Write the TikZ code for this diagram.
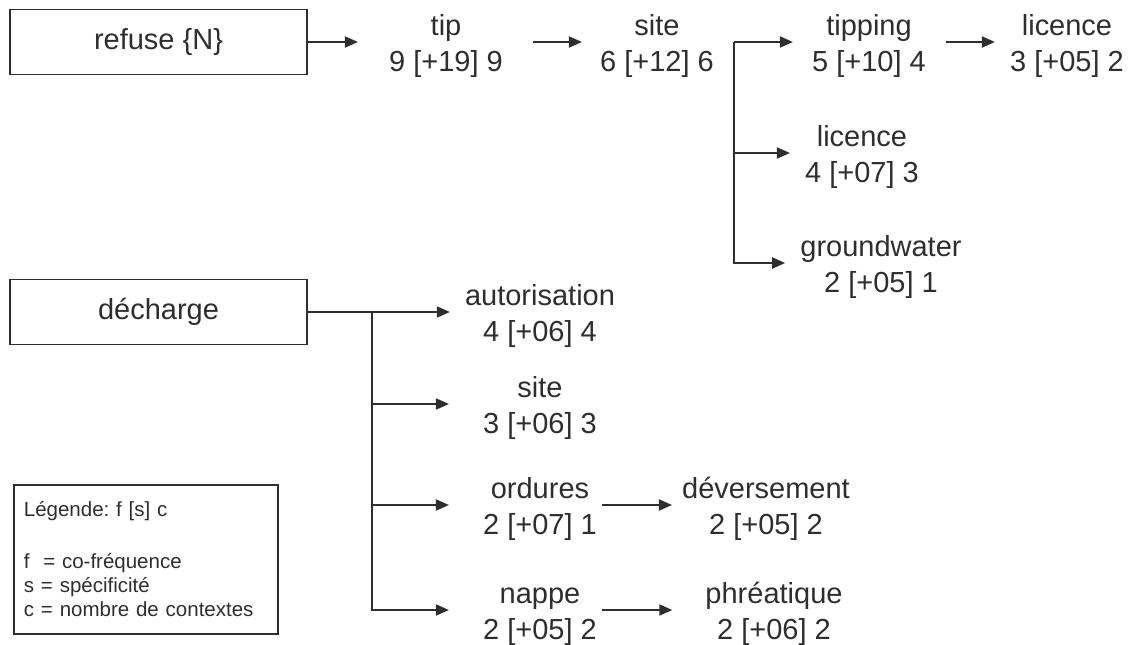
\documentclass[tikz,border=0pt]{standalone}
\usepackage{fontspec}
\setmainfont{Liberation Sans}
\usetikzlibrary{arrows.meta}
\definecolor{ink}{HTML}{2E2E2E}
% two-line term: word over f [s] c
\newcommand{\term}[2]{\rule{0pt}{29pt}#1\\#2\rule[-7pt]{0pt}{7pt}}

\begin{document}
\begin{tikzpicture}[x=1pt,y=-1pt,
    every node/.style={text=ink},
    term/.style={align=center, inner sep=0pt, font=\fontsize{29}{36}\selectfont},
    headbox/.style={draw=ink, line width=1.8pt, minimum width=297pt, minimum height=65pt,
        inner sep=0pt, font=\fontsize{29}{36}\selectfont},
    legend/.style={draw=ink, line width=1.8pt, align=left, text width=244pt,
        inner xsep=10pt, inner ysep=0pt, minimum height=149pt,
        font=\fontsize{20.5}{24}\selectfont\frenchspacing},
    arr/.style={draw=ink, line width=1.8pt, -{Triangle[length=13pt,width=11pt]}}]
    \useasboundingbox (0,0) rectangle (1136,645);
    % refuse
    \node[headbox] (refuse) at (158.5,42) {refuse \{N\}};
    \node[term] (tip) at (446,42) {\term{tip}{9 [+19] 9}};
    \node[term] (site) at (657,42) {\term{site}{6 [+12] 6}};
    \node[term] (tipping) at (869,42) {\term{tipping}{5 [+10] 4}};
    \node[term] (licenceA) at (1067,42) {\term{licence}{3 [+05] 2}};
    \node[term] (licenceB) at (862,153) {\term{licence}{4 [+07] 3}};
    \node[term] (groundwater) at (881,263) {\term{groundwater}{2 [+05] 1}};
    \draw[arr] (refuse) -- ([xshift=-31pt]tip.west);
    \draw[arr] ([xshift=30pt]tip.east) -- ([xshift=-18pt]site.west);
    \coordinate (fork1) at (734,42);
    \draw[arr] (fork1) -- ([xshift=-19pt]tipping.west);
    \draw[arr] (fork1) |- ([xshift=-15pt]licenceB.west);
    \draw[arr] (fork1) |- ([xshift=-15pt]groundwater.west);
    \draw[arr] ([xshift=20pt]tipping.east) -- ([xshift=-15pt]licenceA.west);
    % décharge
    \node[headbox] (decharge) at (158.5,312) {décharge};
    \node[term] (autorisation) at (540,312) {\term{autorisation}{4 [+06] 4}};
    \node[term] (siteB) at (540,404) {\term{site}{3 [+06] 3}};
    \node[term] (ordures) at (540,505) {\term{ordures}{2 [+07] 1}};
    \node[term] (nappe) at (540,610) {\term{nappe}{2 [+05] 2}};
    \node[term] (deversement) at (766,505) {\term{déversement}{2 [+05] 2}};
    \node[term] (phreatique) at (774,610) {\term{phréatique}{2 [+06] 2}};
    \draw[arr] (decharge) -- ([xshift=-15pt]autorisation.west);
    \coordinate (fork2) at (372,312);
    \draw[arr] (fork2) |- ([xshift=-34pt]siteB.west);
    \draw[arr] (fork2) |- ([xshift=-34pt]ordures.west);
    \draw[arr] (fork2) |- ([xshift=-34pt]nappe.west);
    \draw[arr] ([xshift=5pt]ordures.east) -- ([xshift=-10pt]deversement.west);
    \draw[arr] ([xshift=5pt]nappe.east) -- ([xshift=-33pt]phreatique.west);
    % legend
    \node[legend, anchor=north west] (legend) at (13,484)
        {Légende: f [s] c\\[28pt] f~ = co-fréquence\\ s = spécificité\\ c = nombre de contextes};
\end{tikzpicture}
\end{document}
